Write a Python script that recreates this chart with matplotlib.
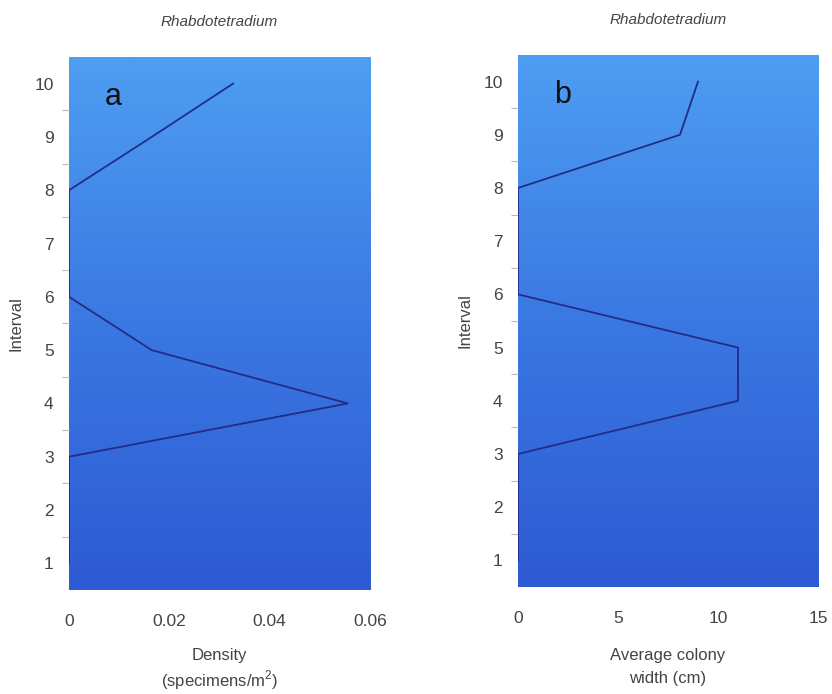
import numpy as np
import matplotlib as mpl
mpl.use('Agg')
import matplotlib.pyplot as plt
from matplotlib.colors import LinearSegmentedColormap

plt.rcParams['font.family'] = ['Liberation Sans', 'DejaVu Sans']

intervals = [1, 2, 3, 4, 5, 6, 7, 8, 9, 10]
density = [0, 0, 0, 0.0556, 0.0165, 0, 0, 0, 0.0165, 0.0327]
colony_width = [0, 0, 0, 11.0, 11.0, 0, 0, 0, 8.1, 9.0]

taxon = 'Rhabdotetradium'
text_col = '#444444'
line_col = '#232c86'
bg = LinearSegmentedColormap.from_list('bg', ['#2e5ad3', '#3a78e2', '#4e9ef2'])

fig = plt.figure(figsize=(8.32, 6.94), dpi=100)
ax_a = fig.add_axes([0.0829, 0.1499, 0.3618, 0.7680])
ax_b = fig.add_axes([0.6226, 0.1542, 0.3606, 0.7666])


def setup(ax, x, xmax, xticks, xticklabels, letter, xlabel, spacing, lpad):
    grad = np.linspace(0, 1, 256).reshape(-1, 1)
    ax.imshow(grad, cmap=bg, origin='lower', aspect='auto',
              extent=[0, 1, 0, 1], transform=ax.transAxes, zorder=0)
    ax.plot(x, intervals, color=line_col, lw=1.3, zorder=2)
    ax.set_xlim(0, xmax)
    ax.set_ylim(0.5, 10.5)
    for s in ax.spines.values():
        s.set_visible(False)

    ax.set_yticks(intervals)
    ax.set_yticks(np.arange(1.5, 10.5, 1), minor=True)
    ax.tick_params(axis='y', which='major', length=0, pad=11,
                   labelsize=12.5, labelcolor=text_col)
    ax.tick_params(axis='y', which='minor', length=5, color='#bbbbbb',
                   width=0.8)
    ax.set_xticks(xticks)
    ax.set_xticklabels(xticklabels)
    ax.tick_params(axis='x', length=0, pad=17, labelsize=12.5,
                   labelcolor=text_col)

    ax.set_ylabel('Interval', fontsize=12, color=text_col, labelpad=8)
    ax.set_xlabel(xlabel, fontsize=12, color=text_col, labelpad=lpad,
                  linespacing=spacing)
    ax.set_title(taxon, fontsize=11, style='italic', color=text_col,
                 pad=22)
    ax.text(0.12, 0.925, letter, transform=ax.transAxes, fontsize=22,
            color='#111111', ha='left', va='center')


setup(ax_a, density, 0.06, [0, 0.02, 0.04, 0.06],
      ['0', '0.02', '0.04', '0.06'], 'a',
      'Density\n(specimens/m$^{\\mathregular{2}}$)', 1.3, 14)
setup(ax_b, colony_width, 15, [0, 5, 10, 15],
      ['0', '5', '10', '15'], 'b',
      'Average colony\nwidth (cm)', 1.7, 16)

fig.savefig('out.png', dpi=100)
